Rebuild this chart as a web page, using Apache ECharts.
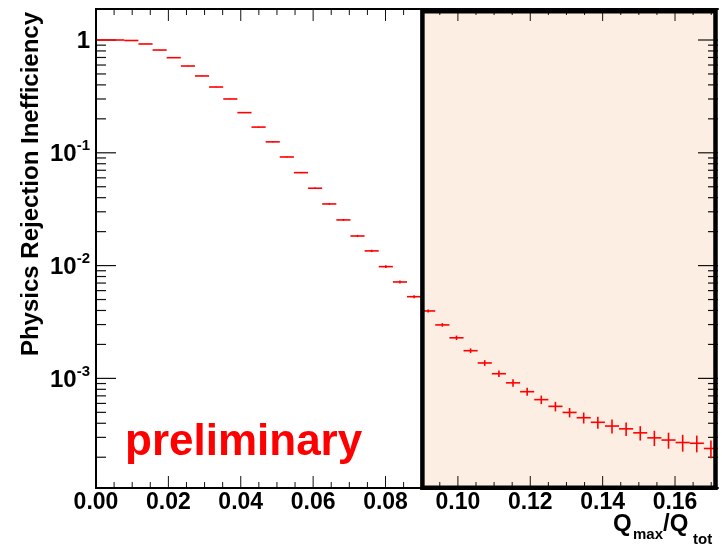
<!DOCTYPE html>
<html><head><meta charset="utf-8">
<script src="https://cdn.jsdelivr.net/npm/echarts@6/dist/echarts.min.js"></script>
<style>html,body{margin:0;padding:0;background:#fff}#c{width:722px;height:547px}</style>
</head><body><div id="c"></div>
<script>
// ---------- data ----------
const binWidth = 0.00390625;
const binLow = [0, 0.00391, 0.00781, 0.01172, 0.01563, 0.01953, 0.02344, 0.02734, 0.03125, 0.03516,
  0.03906, 0.04297, 0.04688, 0.05078, 0.05469, 0.05859, 0.0625, 0.06641, 0.07031, 0.07422,
  0.07813, 0.08203, 0.08594, 0.08984, 0.09375, 0.09766, 0.10156, 0.10547, 0.10938, 0.11328,
  0.11719, 0.12109, 0.125, 0.12891, 0.13281, 0.13672, 0.14063, 0.14453, 0.14844, 0.15234,
  0.15625, 0.16016, 0.16406, 0.16797];
const inefficiency = [1.0, 1.0, 0.99, 0.922, 0.815, 0.697, 0.588, 0.480, 0.383, 0.300,
  0.227, 0.169, 0.125, 0.0918, 0.0667, 0.0485, 0.0352, 0.0254, 0.0183, 0.0135,
  0.00979, 0.00716, 0.00530, 0.00396, 0.00298, 0.00229, 0.00176, 0.00137, 0.00110, 0.000913,
  0.000762, 0.000648, 0.000565, 0.000499, 0.000448, 0.000408, 0.000378, 0.000357, 0.000329, 0.000297,
  0.000284, 0.000270, 0.000266, 0.000239];
const inefficiencyErr = [0, 0.001, 0.002, 0.003, 0.003, 0.003, 0.003, 0.003, 0.0025, 0.002,
  0.0018, 0.0015, 0.0012, 0.0010, 0.0008, 0.0007, 0.0006, 0.0005, 0.0004, 0.00033,
  0.00027, 0.00022, 0.00016, 0.00012, 0.00011, 0.000103, 0.000083, 0.000079, 0.000072, 0.000069,
  0.000062, 0.000056, 0.000055, 0.000048, 0.00005, 0.00005, 0.000054, 0.000049, 0.000048, 0.000046,
  0.000046, 0.000046, 0.000045, 0.000043];
const xMin = 0, xMax = 0.171875;
const yMin = 1.067e-4, yMax = 1.883;
const shadeFrom = 0.09;
const xMajorTicks = [0, 0.02, 0.04, 0.06, 0.08, 0.10, 0.12, 0.14, 0.16];
const xMinorTicks = [0.005, 0.01, 0.015, 0.025, 0.03, 0.035, 0.045, 0.05, 0.055, 0.065, 0.07, 0.075,
  0.085, 0.09, 0.095, 0.105, 0.11, 0.115, 0.125, 0.13, 0.135, 0.145, 0.15, 0.155, 0.165, 0.17];
const yMajorTicks = [1, 0.1, 0.01, 0.001];
const yTickBase = ['1', '10', '10', '10'];
const yTickExp = ['', '-1', '-2', '-3'];
const yMinorTicks = [0.9, 0.8, 0.7, 0.6, 0.5, 0.4, 0.3, 0.2,
  0.09, 0.08, 0.07, 0.06, 0.05, 0.04, 0.03, 0.02,
  0.009, 0.008, 0.007, 0.006, 0.005, 0.004, 0.003, 0.002,
  0.0009, 0.0008, 0.0007, 0.0006, 0.0005, 0.0004, 0.0003, 0.0002];
const yTitle = 'Physics Rejection Inefficiency';
const stampText = 'preliminary';

// ---------- chart ----------
const FONT = "'Liberation Sans', Arial, Helvetica, sans-serif";
const chart = echarts.init(document.getElementById('c'), null, {renderer: 'canvas'});

const pointData = binLow.map((lo, i) => [lo, inefficiency[i], inefficiencyErr[i]]);

function tickLine(x1, y1, x2, y2, w) {
  return {type: 'line', shape: {x1, y1, x2, y2}, style: {stroke: '#111', lineWidth: w}};
}

const option = {
  animation: false,
  backgroundColor: '#fff',
  grid: {left: 96, top: 9, width: 622, height: 479, containLabel: false, outerBoundsMode: 'none'},
  xAxis: [{
    type: 'value', min: xMin, max: xMax, interval: 0.02, position: 'bottom', z: 6,
    axisLine: {show: true, onZero: false, lineStyle: {color: '#000', width: 2}},
    axisTick: {show: false}, minorTick: {show: false}, splitLine: {show: false},
    axisLabel: {
      show: true, margin: 3, fontSize: 23, fontWeight: 'bold', fontFamily: FONT, color: '#000',
      showMaxLabel: true,
      formatter: v => (Math.abs(v / 0.02 - Math.round(v / 0.02)) < 1e-6) ? v.toFixed(2) : ''
    }
  }, {
    type: 'value', min: xMin, max: xMax, position: 'top', z: 6,
    axisLine: {show: true, onZero: false, lineStyle: {color: '#000', width: 2}},
    axisTick: {show: false}, axisLabel: {show: false}, splitLine: {show: false}
  }],
  yAxis: [{
    type: 'log', logBase: 10, min: yMin, max: yMax, position: 'left', z: 6,
    axisLine: {show: true, lineStyle: {color: '#000', width: 2}},
    axisTick: {show: false}, axisLabel: {show: false}, splitLine: {show: false}
  }, {
    type: 'log', logBase: 10, min: yMin, max: yMax, position: 'right', z: 6,
    axisLine: {show: true, lineStyle: {color: '#000', width: 2}},
    axisTick: {show: false}, axisLabel: {show: false}, splitLine: {show: false}
  }],
  series: [
    { // shaded region fill
      type: 'custom', z: 1, silent: true,
      data: [[shadeFrom, yMin]],
      renderItem: (params, api) => {
        const p0 = api.coord([shadeFrom, yMax]);
        const p1 = api.coord([xMax, yMin]);
        return {type: 'rect', shape: {x: p0[0], y: p0[1], width: p1[0] - p0[0], height: p1[1] - p0[1]},
          style: {fill: '#fdeee4'}};
      }
    },
    { // x ticks (bottom & top)
      type: 'custom', z: 3, silent: true,
      data: xMajorTicks.map(v => [v, yMin, 1]).concat(xMinorTicks.map(v => [v, yMin, 0])),
      renderItem: (params, api) => {
        const v = api.value(0), major = api.value(2) === 1;
        const b = api.coord([v, yMin]), t = api.coord([v, yMax]);
        const len = major ? 12 : 6;
        return {type: 'group', children: [
          tickLine(b[0], b[1], b[0], b[1] - len, 1),
          tickLine(t[0], t[1], t[0], t[1] + len, 1)
        ]};
      }
    },
    { // y ticks (left & right) + labels
      type: 'custom', z: 3, silent: true,
      data: yMajorTicks.map((v, i) => [xMin, v, 1, i]).concat(yMinorTicks.map(v => [xMin, v, 0, -1])),
      renderItem: (params, api) => {
        const v = api.value(1), major = api.value(2) === 1, idx = api.value(3);
        const l = api.coord([xMin, v]), r = api.coord([xMax, v]);
        const len = major ? 20 : 10;
        const children = [
          tickLine(l[0], l[1], l[0] + len, l[1], 1.2),
          tickLine(r[0], r[1], r[0] - len, r[1], 1.2)
        ];
        if (major) {
          const txt = yTickExp[idx] ? '{b|' + yTickBase[idx] + '}{s|' + yTickExp[idx] + '}' : '{b|' + yTickBase[idx] + '}';
          children.push({type: 'text', x: l[0] - 6, y: l[1] + 1.5,
            style: {text: txt, align: 'right', verticalAlign: 'middle', fill: '#000',
              rich: {
                b: {fontSize: 24, fontWeight: 'bold', fontFamily: FONT, fill: '#000', lineHeight: 32},
                s: {fontSize: 15, fontWeight: 'bold', fontFamily: FONT, fill: '#000', verticalAlign: 'top'}
              }}});
        }
        return {type: 'group', children};
      }
    },
    { // data: histogram with error bars
      type: 'custom', z: 4,
      data: pointData,
      encode: {x: 0, y: 1},
      renderItem: (params, api) => {
        const lo = api.value(0), v = api.value(1), e = api.value(2);
        const pl = api.coord([lo, v]), pr = api.coord([lo + binWidth, v]);
        const cx = lo + binWidth / 2;
        const pt = api.coord([cx, Math.min(v + e, yMax)]);
        const pb = api.coord([cx, Math.max(v - e, yMin)]);
        const st = {stroke: '#ff0000', lineWidth: 1.6};
        return {type: 'group', children: [
          {type: 'line', shape: {x1: pl[0], y1: pl[1], x2: pr[0], y2: pr[1]}, style: st},
          {type: 'line', shape: {x1: pt[0], y1: pt[1], x2: pb[0], y2: pb[1]}, style: st}
        ]};
      }
    },
    { // box border
      type: 'custom', z: 5, silent: true,
      data: [[shadeFrom, yMin]],
      renderItem: (params, api) => {
        const p0 = api.coord([shadeFrom, yMax]);
        const p1 = api.coord([xMax, yMin]);
        const x0 = p0[0] + 0.7, y0 = p0[1] + 2.2, x1 = p1[0] - 2.5, y1 = p1[1] - 0.3;
        return {type: 'rect', shape: {x: x0, y: y0, width: x1 - x0, height: y1 - y0},
          style: {fill: 'none', stroke: '#000', lineWidth: 4.5}};
      }
    }
  ],
  graphic: [
    {type: 'text', x: 31, y: 184, rotation: Math.PI / 2, z: 10,
      style: {text: yTitle, align: 'center', verticalAlign: 'middle', fill: '#000',
        fontSize: 24, fontWeight: 'bold', fontFamily: FONT}},
    {type: 'text', x: 125, y: 443, z: 10,
      style: {text: stampText, align: 'left', verticalAlign: 'middle', fill: '#ff0000',
        fontSize: 44, fontWeight: 'bold', fontFamily: FONT}},
    {type: 'text', x: 613, y: 524, z: 10,
      style: {text: 'Q', align: 'left', verticalAlign: 'middle', fill: '#000', fontSize: 24, fontWeight: 'bold', fontFamily: FONT}},
    {type: 'text', x: 633, y: 535, z: 10,
      style: {text: 'max', align: 'left', verticalAlign: 'middle', fill: '#000', fontSize: 15, fontWeight: 'bold', fontFamily: FONT}},
    {type: 'text', x: 663, y: 524, z: 10,
      style: {text: '/Q', align: 'left', verticalAlign: 'middle', fill: '#000', fontSize: 24, fontWeight: 'bold', fontFamily: FONT}},
    {type: 'text', x: 693, y: 540, z: 10,
      style: {text: 'tot', align: 'left', verticalAlign: 'middle', fill: '#000', fontSize: 15, fontWeight: 'bold', fontFamily: FONT}}
  ]
};
chart.setOption(option);
</script>
</body></html>
